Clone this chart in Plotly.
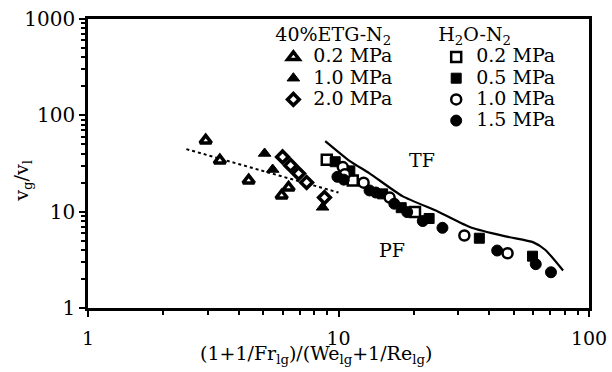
import plotly.graph_objects as go

# ---- data ----
etg_02_x = [2.95, 3.36, 4.38, 5.93, 6.32]
etg_02_y = [54.9, 34.0, 21.1, 14.7, 17.8]
etg_10_x = [5.07, 5.46, 8.64]
etg_10_y = [40.2, 27.4, 11.1]
etg_20_x = [5.98, 6.44, 6.93, 7.46, 8.79]
etg_20_y = [37.0, 30.2, 24.9, 20.1, 14.0]

h2o_02_x = [8.98, 11.4, 20.2]
h2o_02_y = [34.6, 21.1, 9.9]
h2o_05_x = [9.7, 11.1, 15.0, 17.8, 23.0, 36.5, 59.5]
h2o_05_y = [33.0, 26.5, 15.3, 11.0, 8.5, 5.3, 3.45]
h2o_10_x = [10.4, 10.6, 12.6, 16.0, 31.8, 47.3]
h2o_10_y = [29.0, 24.5, 20.0, 14.0, 5.66, 3.7]
h2o_15_x = [9.9, 10.5, 13.3, 14.1, 16.7, 18.8, 21.7, 26.0, 43.0, 61.3, 70.5]
h2o_15_y = [23.0, 21.5, 16.6, 15.8, 12.1, 9.9, 8.0, 6.8, 3.95, 2.85, 2.35]

fit_x = [2.47, 5.0, 10.0]
fit_y = [44.6, 26.5, 15.8]

boundary_x = [8.85, 11.1, 13.3, 18.0, 25.0, 34.0, 47.0, 60.0, 67.0, 78.8]
boundary_y = [54.0, 33.5, 25.0, 14.5, 10.0, 6.8, 5.5, 4.8, 4.0, 2.45]

x_ticks = [1, 10, 100]
x_ticktext = ["1", "10", "100"]
y_ticks = [1, 10, 100, 1000]
y_ticktext = ["1", "10", "100", "1000"]

FONT = "DejaVu Serif"
BIG = 19


def nm(t):
    return "<span style='font-size:19px'>" + t + "</span>"


fig = go.Figure()

fig.add_trace(go.Scatter(x=fit_x, y=fit_y, mode="lines",
                         line=dict(color="black", width=2, dash="dot"),
                         showlegend=False, hoverinfo="skip"))
fig.add_trace(go.Scatter(x=boundary_x, y=boundary_y, mode="lines",
                         line=dict(color="black", width=2.2, shape="spline", smoothing=0.6),
                         showlegend=False, hoverinfo="skip"))

def pts(x, y, name, symbol, fill, size, lw, legend):
    fig.add_trace(go.Scatter(
        x=x, y=y, mode="markers", name=nm(name), legend=legend,
        marker=dict(symbol=symbol, size=size, color=fill,
                    line=dict(color="black", width=lw))))

pts(etg_02_x, etg_02_y, "0.2 MPa", "triangle-up", "white", 10, 3.5, "legend")
pts(etg_10_x, etg_10_y, "1.0 MPa", "triangle-up", "black", 11, 1, "legend")
pts(etg_20_x, etg_20_y, "2.0 MPa", "diamond", "white", 9, 3.5, "legend")

pts(h2o_02_x, h2o_02_y, "0.2 MPa", "square", "white", 10, 2.5, "legend2")
pts(h2o_05_x, h2o_05_y, "0.5 MPa", "square", "black", 10, 1, "legend2")
pts(h2o_10_x, h2o_10_y, "1.0 MPa", "circle", "white", 10, 2.5, "legend2")
pts(h2o_15_x, h2o_15_y, "1.5 MPa", "circle", "black", 11, 1, "legend2")

minor_vals = [m * d for d in (1, 10, 100) for m in range(2, 10)]

axis_common = dict(type="log", showline=True, linecolor="black", linewidth=2.5,
                   mirror=True, showgrid=False, zeroline=False,
                   ticks="outside", ticklen=6, tickwidth=2, tickcolor="black",
                   ticklabeloverflow="allow",
                   minor=dict(tickvals=minor_vals, ticks="outside", ticklen=4,
                              tickwidth=1.5, tickcolor="black", showgrid=False))

fig.update_xaxes(range=[0, 2], tickvals=x_ticks, ticktext=x_ticktext,
                 ticklabelstandoff=5,
                 tickfont=dict(family=FONT, size=19, color="black"), **axis_common)
fig.update_yaxes(range=[0, 3], tickvals=y_ticks, ticktext=y_ticktext,
                 tickfont=dict(family=FONT, size=20, color="black"), **axis_common)

legend_common = dict(bgcolor="rgba(0,0,0,0)", borderwidth=0, xanchor="left",
                     yanchor="top", y=1.008, itemsizing="trace",
                     font=dict(family=FONT, size=14, color="black"),
                     tracegroupgap=0)

fig.update_layout(
    width=612, height=372,
    margin=dict(l=88, r=23, t=19, b=64, autoexpand=False),
    paper_bgcolor="white", plot_bgcolor="white",
    font=dict(family=FONT, color="black"),
    legend=dict(x=0.37, title=dict(text="40%ETG-N<sub>2</sub>",
                                   font=dict(family=FONT, size=BIG)), **legend_common),
    legend2=dict(x=0.695, title=dict(text="H<sub>2</sub>O-N<sub>2</sub>",
                                     font=dict(family=FONT, size=BIG)), **legend_common),
    annotations=[
        dict(x=1.334, y=1.54, xref="x", yref="y", text="TF", showarrow=False,
             font=dict(family=FONT, size=BIG)),
        dict(x=1.215, y=0.6, xref="x", yref="y", text="PF", showarrow=False,
             font=dict(family=FONT, size=BIG)),
        dict(x=0.456, y=-0.16, xref="paper", yref="paper",
             text="(1+1/Fr<sub>lg</sub>)/(We<sub>lg</sub>+1/Re<sub>lg</sub>)",
             showarrow=False, xanchor="center", yanchor="middle",
             font=dict(family=FONT, size=BIG)),
        dict(x=-0.13, y=0.44, xref="paper", yref="paper",
             text="v<sub>g</sub>/v<sub>l</sub>", textangle=-90,
             showarrow=False, xanchor="center", yanchor="middle",
             font=dict(family=FONT, size=BIG)),
    ],
)

# remove the page's default 8px body margin so the 612x372 figure fills the window
fig.write_html("out.html",
               config={"displayModeBar": False},
               post_script="document.body.style.margin='0px';"
                           "document.body.style.overflow='hidden';")
